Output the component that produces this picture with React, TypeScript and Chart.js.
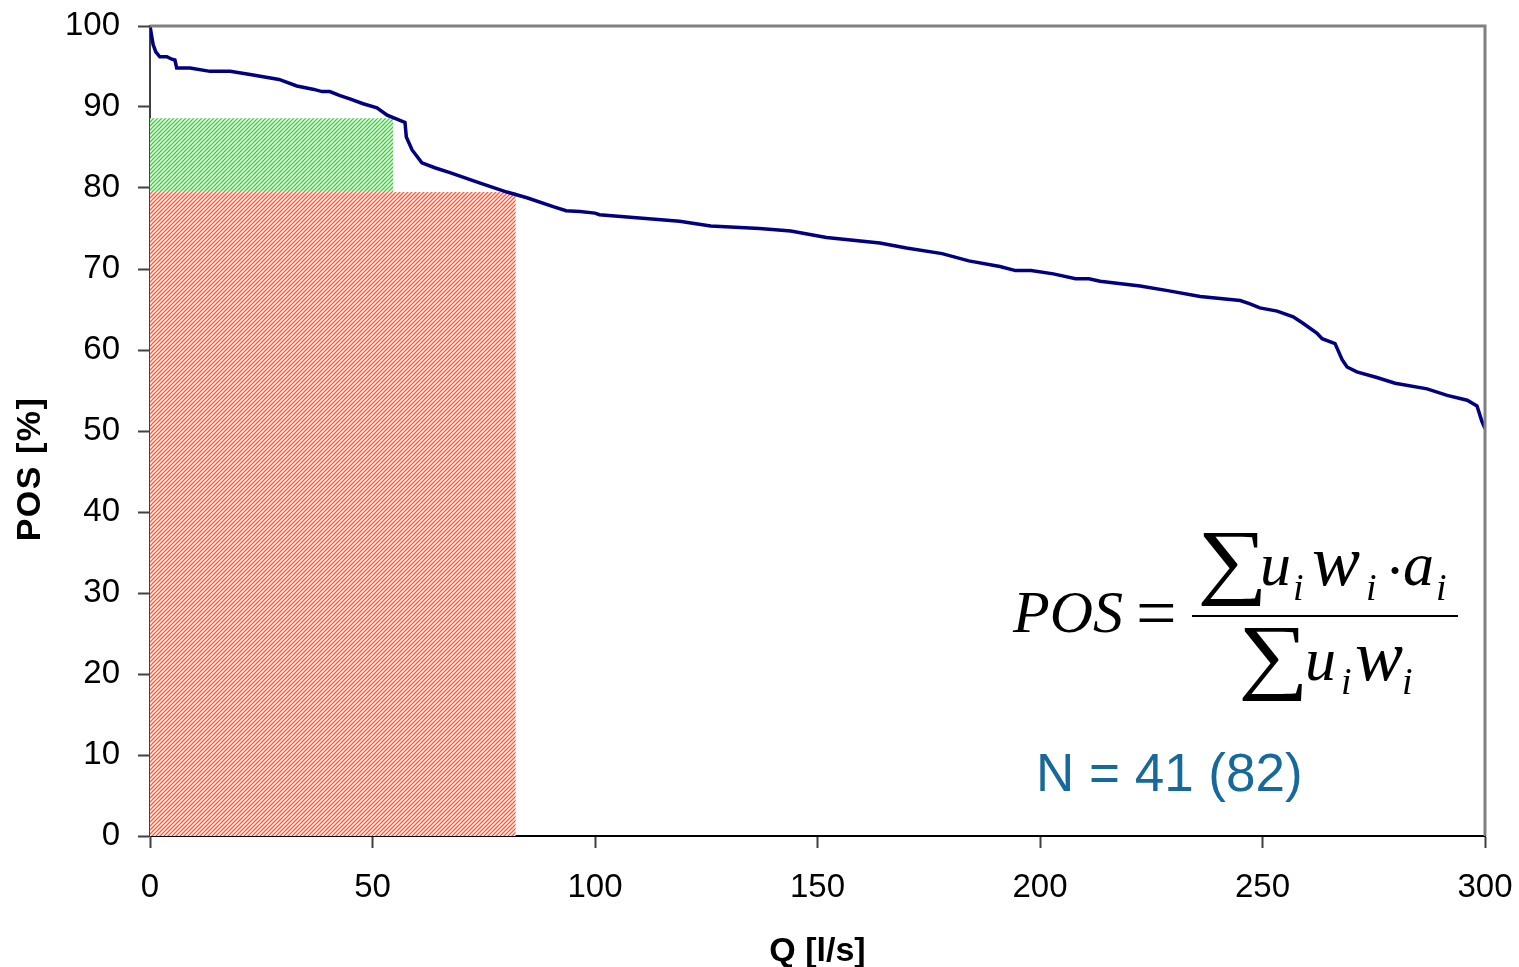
import React, { useEffect, useRef } from "react";
import { Chart, registerables } from "chart.js";

Chart.register(...registerables);

// Duration curve: Q [l/s] vs POS [%]
const qValues = [
  0, 0.3, 0.7, 1.3, 2.2, 3.8, 4.9, 5.6, 6.0, 9.0, 13.5, 18, 22.5, 29, 33, 36.6, 38.7, 40.4, 42.7, 44.9,
  47.9, 51, 53.3, 57.3, 57.6, 58.9, 61.1, 64, 67.4, 74.2, 80.2, 84.7, 90.6, 93.5, 96.6, 100, 101, 110,
  119, 126, 137, 144, 152, 164, 170, 178, 184, 191, 194.5, 198, 203, 208, 211, 213.5, 222.5, 229, 236,
  245, 247.2, 249.4, 253.3, 256.9, 259.1, 262.2, 263.4, 266.3, 267.9, 269, 271.2, 275.7, 279.8, 287,
  291.5, 296, 298.2, 299.3, 300,
];
const posValues = [
  100, 99.0, 97.7, 96.8, 96.2, 96.2, 95.9, 95.8, 94.8, 94.8, 94.4, 94.4, 94.0, 93.4, 92.6, 92.2, 91.9,
  91.9, 91.4, 91.0, 90.4, 89.9, 89.0, 88.1, 86.3, 84.7, 83.1, 82.5, 81.9, 80.6, 79.5, 78.8, 77.7, 77.2,
  77.1, 76.9, 76.7, 76.3, 75.9, 75.3, 75.0, 74.7, 73.9, 73.2, 72.6, 71.9, 71.0, 70.3, 69.8, 69.8, 69.4,
  68.8, 68.8, 68.5, 67.9, 67.3, 66.6, 66.1, 65.7, 65.2, 64.8, 64.1, 63.3, 62.1, 61.4, 60.8, 58.8, 57.9,
  57.3, 56.6, 55.9, 55.2, 54.4, 53.8, 53.1, 51.2, 50.3,
];

// Hatched areas
const redAreaQ = [0, 82.2];
const redAreaTop = 79.5;
const greenAreaQ = [0, 54.6];
const greenAreaTop = 88.6;
const greenAreaBottom = 79.5;

const xTicks = [0, 50, 100, 150, 200, 250, 300];
const yTicks = [0, 10, 20, 30, 40, 50, 60, 70, 80, 90, 100];

const xTitle = "Q [l/s]";
const yTitle = "POS [%]";
const nLabel = "N = 41 (82)";

function makeHatch(color: string): CanvasPattern | string {
  const size = 8;
  const c = document.createElement("canvas");
  c.width = size;
  c.height = size;
  const g = c.getContext("2d");
  if (!g) return color;
  g.fillStyle = "#ffffff";
  g.fillRect(0, 0, size, size);
  g.strokeStyle = color;
  g.lineWidth = 1.25;
  g.lineCap = "square";
  for (let x0 = -size; x0 <= size * 2; x0 += 4) {
    g.beginPath();
    g.moveTo(x0, size);
    g.lineTo(x0 + size, 0);
    g.stroke();
  }
  const p = g.createPattern(c, "repeat");
  return p || color;
}

const decorPlugin = {
  id: "decor",
  afterDraw(chart: any) {
    const ctx = chart.ctx as CanvasRenderingContext2D;
    const a = chart.chartArea;
    ctx.save();
    // grey frame top/right
    ctx.strokeStyle = "#808080";
    ctx.lineWidth = 3;
    ctx.beginPath();
    ctx.moveTo(a.left, a.top);
    ctx.lineTo(a.right, a.top);
    ctx.lineTo(a.right, a.bottom);
    ctx.stroke();

    // y title
    ctx.fillStyle = "#000";
    ctx.font = "bold 34px 'Liberation Sans', Arial, sans-serif";
    (ctx as any).letterSpacing = "1.5px";
    ctx.textAlign = "center";
    ctx.textBaseline = "middle";
    ctx.save();
    ctx.translate(31, 469);
    ctx.rotate(-Math.PI / 2);
    ctx.fillText(yTitle, 0, 0);
    ctx.restore();
    (ctx as any).letterSpacing = "0px";

    // N label
    ctx.fillStyle = "#17699c";
    ctx.font = "53px 'Liberation Sans', Arial, sans-serif";
    ctx.textAlign = "left";
    ctx.textBaseline = "alphabetic";
    ctx.fillText(nLabel, 1036, 791);

    // formula
    ctx.fillStyle = "#000";
    const serif = "'Liberation Serif', 'Times New Roman', 'DejaVu Serif', serif";
    ctx.font = `italic 60px ${serif}`;
    ctx.fillText("POS", 1013, 632);
    ctx.font = `72px ${serif}`;
    ctx.fillText("=", 1136, 637);
    ctx.fillRect(1192, 615, 266, 2);

    const sigma = (x: number, y: number) => {
      ctx.save();
      ctx.translate(x, y);
      ctx.scale(1.18, 1);
      ctx.font = `84px ${serif}`;
      ctx.fillText("\u2211", 0, 0);
      ctx.restore();
    };
    // numerator
    sigma(1197, 588);
    ctx.font = `italic 62px ${serif}`;
    ctx.fillText("u", 1260, 585);
    ctx.fillText("a", 1403, 585);
    ctx.font = `italic 72px ${serif}`;
    ctx.fillText("w", 1312, 585);
    ctx.font = `italic 38px ${serif}`;
    ctx.fillText("i", 1293, 600);
    ctx.fillText("i", 1366, 600);
    ctx.fillText("i", 1436, 600);
    ctx.font = `60px ${serif}`;
    ctx.fillText("\u00b7", 1385, 590);
    // denominator
    sigma(1238, 683);
    ctx.font = `italic 62px ${serif}`;
    ctx.fillText("u", 1305, 680);
    ctx.font = `italic 72px ${serif}`;
    ctx.fillText("w", 1355, 680);
    ctx.font = `italic 38px ${serif}`;
    ctx.fillText("i", 1341, 694);
    ctx.fillText("i", 1402, 694);
    ctx.restore();
  },
};

export default function App() {
  const ref = useRef<HTMLCanvasElement | null>(null);

  useEffect(() => {
    if (!ref.current) return;
    const redHatch = makeHatch("rgb(255,85,50)");
    const greenHatch = makeHatch("rgb(55,205,55)");

    const curve = qValues.map((q, i) => ({ x: q, y: posValues[i] }));
    const red = redAreaQ.map((q) => ({ x: q, y: redAreaTop }));
    const green = greenAreaQ.map((q) => ({ x: q, y: greenAreaTop }));

    const tickFont = { family: "'Liberation Sans', Arial, sans-serif", size: 33 };

    const chart = new Chart(ref.current, {
      type: "line",
      data: {
        datasets: [
          {
            data: curve,
            borderColor: "#000080",
            borderWidth: 3.5,
            pointRadius: 0,
            tension: 0,
            fill: false,
            order: 0,
          },
          {
            data: green,
            borderWidth: 0,
            borderColor: "rgba(0,0,0,0)",
            backgroundColor: greenHatch as any,
            pointRadius: 0,
            fill: { value: greenAreaBottom },
            order: 1,
          },
          {
            data: red,
            borderWidth: 0,
            borderColor: "rgba(0,0,0,0)",
            backgroundColor: redHatch as any,
            pointRadius: 0,
            fill: "origin",
            order: 2,
          },
        ],
      },
      options: {
        animation: false,
        responsive: true,
        maintainAspectRatio: false,
        layout: { padding: { top: 26, right: 34, left: 0, bottom: 0 } },
        plugins: {
          legend: { display: false },
          tooltip: { enabled: false },
        },
        scales: {
          x: {
            type: "linear",
            min: 0,
            max: 300,
            afterFit: (s: any) => {
              s.height = 131;
              s.paddingLeft = 0;
              s.paddingRight = 0;
            },
            afterBuildTicks: (s: any) => {
              s.ticks = xTicks.map((v) => ({ value: v }));
            },
            ticks: { font: tickFont, color: "#000", padding: 20, maxRotation: 0 },
            grid: {
              drawOnChartArea: false,
              drawTicks: true,
              tickLength: 12,
              tickColor: "#404040",
              tickWidth: 2,
            },
            border: { display: true, color: "#000", width: 2 },
            title: {
              display: true,
              text: xTitle,
              color: "#000",
              font: { family: "'Liberation Sans', Arial, sans-serif", size: 34, weight: "bold", lineHeight: 0.9 },
              padding: { top: 0, bottom: 0 },
            },
          },
          y: {
            type: "linear",
            min: 0,
            max: 100,
            afterFit: (s: any) => {
              s.width = 150;
              s.paddingTop = 0;
              s.paddingBottom = 0;
            },
            afterBuildTicks: (s: any) => {
              s.ticks = yTicks.map((v) => ({ value: v }));
            },
            ticks: { font: tickFont, color: "#000", padding: 18 },
            grid: {
              drawOnChartArea: false,
              drawTicks: true,
              tickLength: 12,
              tickColor: "#404040",
              tickWidth: 2,
            },
            border: { display: true, color: "#404040", width: 2 },
          },
        },
      },
      plugins: [decorPlugin],
    });
    return () => chart.destroy();
  }, []);

  return (
    <div style={{ position: "absolute", left: 0, top: 0, width: 1519, height: 967, background: "#fff" }}>
      <canvas ref={ref} />
    </div>
  );
}
